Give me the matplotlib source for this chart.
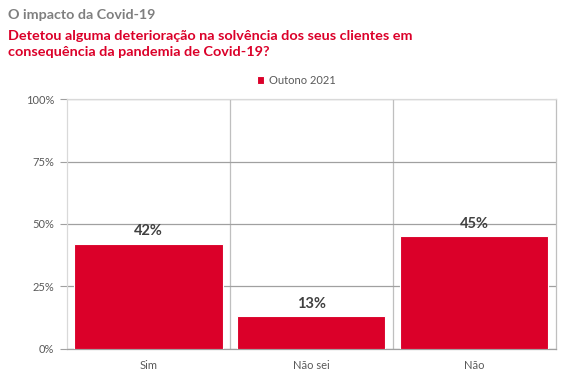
import matplotlib.pyplot as plt
from matplotlib.ticker import FixedLocator

categories = ['Sim', 'Não sei', 'Não']
values = [42, 13, 45]
series_name = 'Outono 2021'
yticks = [0, 25, 50, 75, 100]

red = '#DB0029'
plt.rcParams['font.family'] = ['Lato', 'DejaVu Sans']

fig = plt.figure(figsize=(5.75, 3.83), dpi=100)
ax = fig.add_axes([0.1165, 0.0888, 0.850, 0.6527])

x = range(len(categories))
bars = ax.bar(x, values, width=0.91, color=red, edgecolor='white', linewidth=0.8,
              label=series_name, zorder=3)
for b, v in zip(bars, values):
    ax.annotate(f'{v}%', (b.get_x() + b.get_width() / 2, v), xytext=(0, 4),
                textcoords='offset points', ha='center', va='bottom',
                fontsize=10.5, fontweight='bold', color='#404040')

ax.set_xlim(-0.5, len(categories) - 0.5)
ax.set_ylim(0, 100)
ax.set_yticks(yticks)
ax.set_yticklabels([f'{t}%' for t in yticks])
ax.set_xticks(list(x))
ax.set_xticklabels(categories)
ax.xaxis.set_minor_locator(FixedLocator([0.5, 1.5]))

ax.tick_params(axis='x', which='major', length=0, colors='#595959', labelsize=8, pad=8)
ax.tick_params(axis='x', which='minor', length=0)
ax.tick_params(axis='y', length=5, color='#A0A0A0', labelcolor='#595959', labelsize=8, pad=4)

ax.grid(axis='y', color='#A0A0A0', linewidth=0.9, zorder=0)
ax.grid(axis='x', which='minor', color='#BFBFBF', linewidth=0.9, zorder=0)

ax.spines['left'].set_color('#D9D9D9')
ax.spines['top'].set_color('#D9D9D9')
ax.spines['right'].set_color('#BFBFBF')
ax.spines['bottom'].set_color('#A0A0A0')
for s in ax.spines.values():
    s.set_linewidth(0.9)

fig.text(8 / 575, 1 - 15 / 383, 'O impacto da Covid-19', fontsize=10.3, fontweight='bold',
         color='#7F7F7F', va='center', ha='left')
fig.text(8 / 575, 1 - 44 / 383,
         'Detetou alguma deterioração na solvência dos seus clientes em\nconsequência da pandemia de Covid-19?',
         fontsize=10.4, fontweight='bold', color=red, va='center', ha='left', linespacing=1.3)

ax.legend(loc='center', bbox_to_anchor=(296 / 575, 1 - 80 / 383), bbox_transform=fig.transFigure,
          frameon=False, fontsize=8, handlelength=0.7, handleheight=0.7, handletextpad=0.4,
          labelcolor='#595959')

fig.savefig('out.png', dpi=100)
